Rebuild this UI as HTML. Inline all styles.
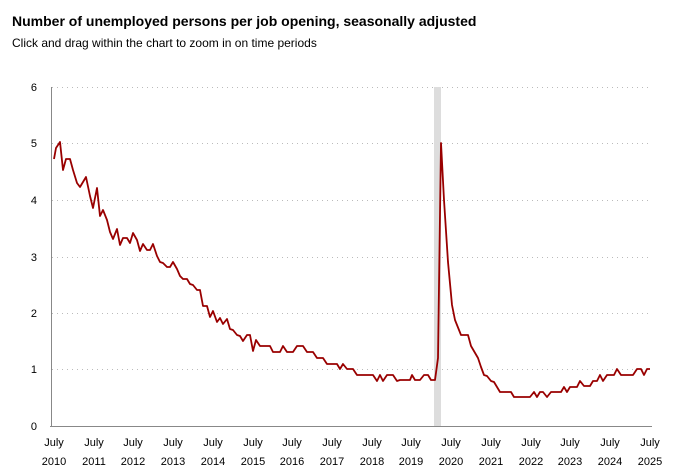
<!DOCTYPE html>
<html><head><style>
body{margin:0;background:#fff;width:678px;height:471px;overflow:hidden;font-family:"Liberation Sans",Arial,sans-serif}
</style></head><body>
<svg width="678" height="471" xmlns="http://www.w3.org/2000/svg" font-family="Liberation Sans, Arial, sans-serif">
<text x="12" y="26" font-size="14" font-weight="bold" fill="#000">Number of unemployed persons per job opening, seasonally adjusted</text>
<text x="12" y="47" font-size="12" fill="#000">Click and drag within the chart to zoom in on time periods</text>
<g stroke="#bbb" stroke-dasharray="1,4" stroke-width="1">
<line x1="52" y1="87.5" x2="652" y2="87.5"/>
<line x1="52" y1="143.5" x2="652" y2="143.5"/>
<line x1="52" y1="200.5" x2="652" y2="200.5"/>
<line x1="52" y1="257.5" x2="652" y2="257.5"/>
<line x1="52" y1="313.5" x2="652" y2="313.5"/>
<line x1="52" y1="369.5" x2="652" y2="369.5"/>
</g>
<rect x="434" y="87" width="7" height="339" fill="#ddd"/>
<line x1="51.5" y1="87" x2="51.5" y2="426" stroke="#888"/>
<line x1="50" y1="426.5" x2="652" y2="426.5" stroke="#888"/>
<g font-size="11" fill="#000" text-anchor="end">
<text x="37" y="91">6</text><text x="37" y="147">5</text><text x="37" y="204">4</text>
<text x="37" y="261">3</text><text x="37" y="317">2</text><text x="37" y="373">1</text><text x="37" y="430">0</text>
</g>
<g font-size="11" fill="#000" text-anchor="middle">
<text x="54" y="446">July</text><text x="54" y="465">2010</text>
<text x="94" y="446">July</text><text x="94" y="465">2011</text>
<text x="133" y="446">July</text><text x="133" y="465">2012</text>
<text x="173" y="446">July</text><text x="173" y="465">2013</text>
<text x="213" y="446">July</text><text x="213" y="465">2014</text>
<text x="253" y="446">July</text><text x="253" y="465">2015</text>
<text x="292" y="446">July</text><text x="292" y="465">2016</text>
<text x="332" y="446">July</text><text x="332" y="465">2017</text>
<text x="372" y="446">July</text><text x="372" y="465">2018</text>
<text x="411" y="446">July</text><text x="411" y="465">2019</text>
<text x="451" y="446">July</text><text x="451" y="465">2020</text>
<text x="491" y="446">July</text><text x="491" y="465">2021</text>
<text x="531" y="446">July</text><text x="531" y="465">2022</text>
<text x="570" y="446">July</text><text x="570" y="465">2023</text>
<text x="610" y="446">July</text><text x="610" y="465">2024</text>
<text x="650" y="446">July</text><text x="650" y="465">2025</text>
</g>
<polyline fill="none" stroke="#990000" stroke-width="1.8" stroke-linejoin="round" points="54,159 56,148 60,142 63,170 66,159 70,159 73,170 77,183 80,187 86,177 90,196 93,208 97,188 100,216 103,210 107,220 110,232 113,239 117,229 120,245 123,238 127,238 130,243 133,233 137,240 140,251 143,244 147,250 150,250 153,244 157,256 160,262 163,263 167,267 170,267 173,262 177,269 180,276 183,279 187,279 190,284 193,285 197,290 200,290 203,306 207,306 210,317 213,311 217,322 220,318 223,324 227,319 230,329 233,330 237,335 240,336 243,341 247,335 250,335 253,351 256,340 260,346 270,346 273,352 280,352 283,346 287,352 293,352 297,346 303,346 307,352 313,352 317,358 323,358 327,364 337,364 340,369 343,364 347,369 353,369 357,375 373,375 377,381 380,375 383,381 387,375 393,375 397,381 400,380 410,380 412,375 415,380 420,380 424,375 428,375 431,380 435,380 438,358 441,143 444,200 448,262 452,305 455,320 461,335 468,335 471,346 478,358 481,367 484,375 487,376 491,381 494,382 500,392 511,392 514,397 530,397 534,392 537,397 540,392 543,392 547,397 551,392 561,392 564,387 567,392 570,387 577,387 580,381 584,386 590,386 593,381 597,381 600,375 603,381 607,375 614,375 617,369 621,375 633,375 637,369 641,369 644,375 647,369 650,369"/>
</svg>
</body></html>
